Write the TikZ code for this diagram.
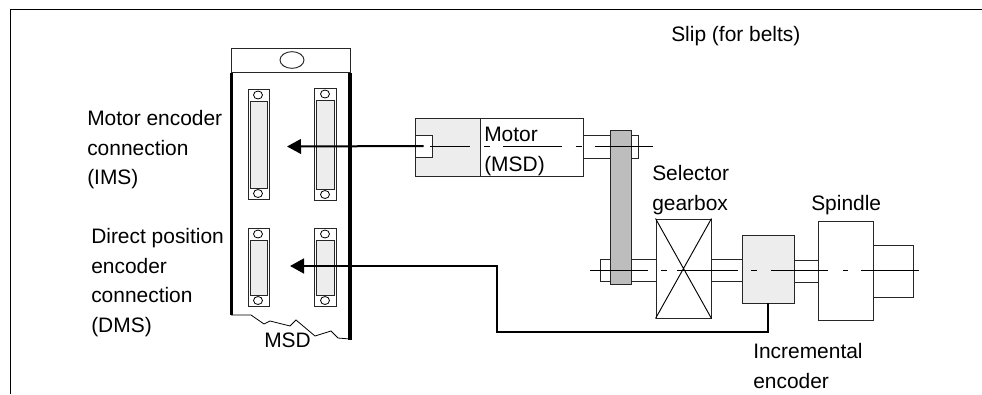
\documentclass[tikz,border=0pt]{standalone}
\usepackage{fontspec}
\setmainfont{Liberation Sans}
\usepackage{tikz}
\usetikzlibrary{arrows.meta,shapes.geometric}
\definecolor{partgray}{gray}{0.93}
\definecolor{beltgray}{gray}{0.74}
\tikzset{
  part/.style={draw=black!85, line width=0.7pt, fill=white},
  graypart/.style={part, fill=partgray},
  block/.style={part, inner sep=0pt},
  grayblock/.style={block, fill=partgray},
  wall/.style={line width=2.3pt, black},
  sigarr/.style={black, -{Triangle[length=10.5pt,width=11pt]}},
  lbl/.style={inner sep=0pt, align=left, anchor=north west, font=\fontsize{15.7}{22.2}\selectfont},
}
% plug with two screw holes
\newcommand{\plug}[5]{%
  \draw[part] (#1,#3) rectangle (#2,#4);
  \draw[graypart] (#1+2,#3+12) rectangle (#2-2,#4-11);
  \draw[line width=0.6pt] (#1+#5,#3+6) ellipse (4.5 and 4);
  \draw[line width=0.6pt] (#1+#5,#4-5.5) ellipse (4.5 and 4);
}
\begin{document}
\begin{tikzpicture}[x=0.75pt,y=-0.75pt]
  \useasboundingbox (0,0) rectangle (982,394);
  % frame
  \draw[line width=0.8pt] (10.5,394) -- (10.5,9.5) -- (982,9.5);
  % MSD module
  \draw[wall] (231.5,73) -- (231.5,315);
  \draw[wall] (350,73) -- (350,340);
  \node[block, minimum width=89.25pt, minimum height=18.5pt] (head) at (290.5,60.5) {};
  \node[block, ellipse, minimum width=18pt, minimum height=12.5pt] (hole) at (292,60) {};
  \draw[line width=0.6pt] (231,315) -- (251,315) -- (264,324) -- (270,321) -- (290,326) -- (296,320) -- (315,336) -- (331,331) -- (338,338) -- (350,339);
  \plug{248.5}{269.5}{89}{199}{9.5}
  \plug{314.5}{336.5}{88}{200}{10.5}
  \plug{248.5}{269.5}{228}{306}{9.5}
  \plug{314.5}{336.5}{228}{306}{10.5}
  % motor
  \node[grayblock, minimum width=48.75pt, minimum height=43.5pt] (rear) at (447.5,147) {};
  \node[block, minimum width=77.25pt, minimum height=43.5pt] (motor) at (531.5,147) {};
  \node[block, minimum width=13pt, minimum height=16.5pt] (enc) at (423.7,146) {};
  \node[block, minimum width=41.25pt, minimum height=17.25pt] (shafta) at (610.5,146.5) {};
  \node[block, minimum width=42pt, minimum height=16.5pt] (shaftb) at (628,270) {};
  % belt
  \node[block, fill=beltgray, minimum width=15.75pt, minimum height=116pt] (belt) at (620.5,207.5) {};
  % gearbox, encoder, spindle
  \node[block, minimum width=23.25pt, minimum height=16.5pt] (shaftc) at (726.5,270) {};
  \node[block, minimum width=18pt, minimum height=16.5pt] (shaftd) at (806,271) {};
  \node[block, minimum width=41.25pt, minimum height=74.25pt] (gear) at (683.5,268.5) {};
  \draw[line width=0.7pt] (gear.north west) -- (gear.south east) (gear.north east) -- (gear.south west);
  \node[grayblock, minimum width=39pt, minimum height=51pt] (incr) at (768,269) {};
  \node[block, minimum width=41.25pt, minimum height=74.25pt] (spindle) at (845.5,270.5) {};
  \node[block, minimum width=30pt, minimum height=39pt] (nose) at (893,271) {};
  % center lines
  \draw[line width=0.6pt, dash pattern=on 30pt off 10.5pt on 4.5pt off 9.75pt on 44pt off 10.5pt on 4.5pt off 9.75pt on 44pt] (430,146.5) -- (655,146.5);
  \draw[line width=0.6pt, dash pattern=on 43.5pt off 9.75pt on 4.5pt off 7.5pt on 45.75pt off 9.75pt on 4.5pt off 10.5pt on 42.75pt off 11.25pt on 3.75pt off 9.75pt on 43.5pt] (590,270.5) -- (919,270.5);
  % signal lines
  \draw[sigarr, line width=1.5pt] (enc.center) -- (287,146.5);
  \draw[sigarr, line width=2pt] (incr.south) -- (768,332) -- (497,332) -- (497,266) -- (290,266);
  % labels
  \node[lbl] (tslip) at (671,26) {Slip (for belts)};
  \node[lbl] (tenc) at (87,110) {Motor encoder\\connection\\(IMS)};
  \node[lbl] (tdir) at (91,228) {Direct position\\encoder\\connection\\(DMS)};
  \node[lbl] (tmsd) at (264,333) {MSD};
  \node[lbl] (tmot) at (484,127) {Motor\\(MSD)};
  \node[lbl] (tgear) at (652,165) {Selector\\gearbox};
  \node[lbl] (tspin) at (811,195) {Spindle};
  \node[lbl] (tincr) at (753,343) {Incremental\\encoder};
\end{tikzpicture}
\end{document}
